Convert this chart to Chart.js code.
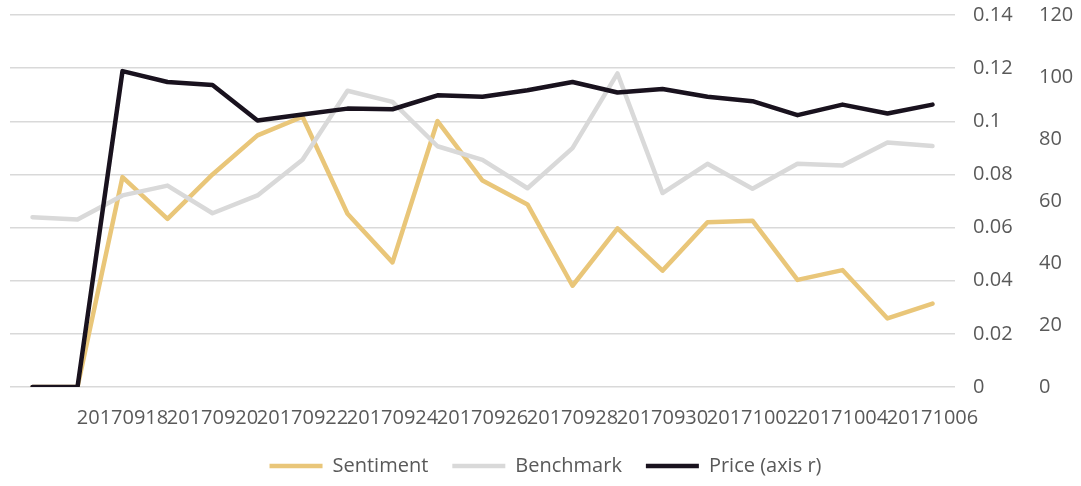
<!DOCTYPE html>
<html>
<head>
<meta charset="utf-8">
<script src="https://cdn.jsdelivr.net/npm/chart.js@4"></script>
<style>
  html, body { margin: 0; padding: 0; background: #fff; }
  #wrap { width: 1081px; height: 486px; }
</style>
</head>
<body>
<div id="wrap"><canvas id="sentChart"></canvas></div>
<script>
const dates = [
  '20170916', '20170917', '20170918', '20170919', '20170920', '20170921', '20170922',
  '20170923', '20170924', '20170925', '20170926', '20170927', '20170928', '20170929',
  '20170930', '20171001', '20171002', '20171003', '20171004', '20171005', '20171006'
];
const sentiment = [0, 0, 0.079, 0.0633, 0.080, 0.0947, 0.1017, 0.0652, 0.0469, 0.1001, 0.0777,
  0.0687, 0.0381, 0.0597, 0.0438, 0.0620, 0.0626, 0.0403, 0.0440, 0.0258, 0.0314];
const benchmark = [0.0639, 0.0630, 0.0721, 0.0758, 0.0654, 0.0721, 0.0855, 0.1115, 0.1073, 0.0906, 0.0855,
  0.0748, 0.0899, 0.1180, 0.0730, 0.0840, 0.0746, 0.0840, 0.0834, 0.0920, 0.0907];
const price = [0, 0, 101.9, 98.4, 97.4, 86.0, 87.9, 89.8, 89.6, 94.1, 93.6,
  95.7, 98.4, 95.0, 96.1, 93.6, 92.2, 87.7, 91.1, 88.2, 91.1];

const txt = '#595959';
const font = { family: '"Open Sans", sans-serif', size: 20 };

// right hand axes: fixed widths, no extra top/bottom padding
function fixAxis(w) {
  return s => {
    s.width = w;
    s.paddingTop = 0;
    s.paddingBottom = 0;
  };
}

const ctx = document.getElementById('sentChart');

new Chart(ctx, {
  type: 'line',
  data: {
    labels: dates,
    datasets: [{
      label: 'Sentiment',
      data: sentiment,
      yAxisID: 'y',
      borderColor: '#E9C679',
      backgroundColor: '#E9C679',
      borderWidth: 4.5,
      borderCapStyle: 'round',
      borderJoinStyle: 'round',
      pointRadius: 0,
      order: 3
    }, {
      label: 'Benchmark',
      data: benchmark,
      yAxisID: 'y',
      borderColor: '#D9D9D9',
      backgroundColor: '#D9D9D9',
      borderWidth: 4.5,
      borderCapStyle: 'round',
      borderJoinStyle: 'round',
      pointRadius: 0,
      order: 2
    }, {
      label: 'Price (axis r)',
      data: price,
      yAxisID: 'y1',
      borderColor: '#19121E',
      backgroundColor: '#19121E',
      borderWidth: 4.5,
      borderCapStyle: 'round',
      borderJoinStyle: 'round',
      pointRadius: 0,
      order: 1
    }]
  },
  options: {
    responsive: true,
    maintainAspectRatio: false,
    animation: false,
    layout: { padding: { left: 10, right: 0, top: 15, bottom: 0 } },
    plugins: {
      tooltip: { enabled: false },
      legend: {
        position: 'bottom',
        labels: {
          color: txt,
          font: font,
          usePointStyle: true,
          pointStyleWidth: 53,
          pointStyle: 'line',
          padding: 24,
          sort: (a, b) => a.datasetIndex - b.datasetIndex
        }
      }
    },
    scales: {
      x: {
        offset: true,
        grid: { display: false },
        border: { display: false },
        afterFit: s => { s.height = s.height - 9; },
        ticks: {
          color: txt,
          font: font,
          autoSkip: false,
          maxRotation: 0,
          minRotation: 0,
          padding: 11,
          callback: function (v, i) {
            return (i > 0 && i % 2 === 0) ? dates[i] : '';
          }
        }
      },
      y: {
        position: 'right',
        min: 0,
        max: 0.14,
        grid: { color: '#D9D9D9', lineWidth: 1.5, drawTicks: false },
        border: { display: false },
        afterFit: fixAxis(70),
        ticks: {
          stepSize: 0.02,
          color: txt,
          font: font,
          padding: 18,
          callback: v => +v.toFixed(2)
        }
      },
      y1: {
        position: 'right',
        min: 0,
        max: 120,
        grid: { display: false, drawTicks: false },
        border: { display: false },
        afterFit: fixAxis(56),
        ticks: {
          stepSize: 20,
          color: txt,
          font: font,
          padding: 14
        }
      }
    }
  }
});
</script>
</body>
</html>
